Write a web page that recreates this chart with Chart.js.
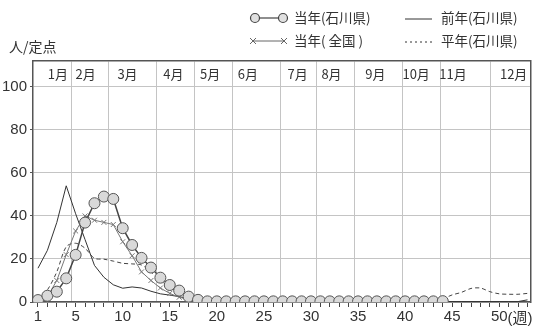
<!DOCTYPE html>
<html>
<head>
<meta charset="utf-8">
<script src="https://cdn.jsdelivr.net/npm/chart.js@4.4.1/dist/chart.umd.min.js"></script>
<style>
  html, body { margin: 0; padding: 0; background: #fff; }
  #contenedor { width: 537px; height: 331px; }
</style>
</head>
<body>
<div id="contenedor"><canvas id="grafico" width="537" height="331"></canvas></div>
<script>
  // semanas del año
  const semanas = [1, 2, 3, 4, 5, 6, 7, 8, 9, 10, 11, 12, 13, 14, 15, 16, 17, 18, 19, 20,
    21, 22, 23, 24, 25, 26, 27, 28, 29, 30, 31, 32, 33, 34, 35, 36, 37, 38, 39, 40,
    41, 42, 43, 44, 45, 46, 47, 48, 49, 50, 51, 52, 53];

  // 当年(石川県) - semanas 1..44
  const actualIshikawa = [0.9, 2.9, 4.8, 11.0, 21.9, 36.9, 45.9, 49.0, 47.9, 34.3,
    26.5, 20.5, 16.0, 11.3, 7.9, 5.3, 2.5, 1.0, 0.3, 0.3,
    0.3, 0.3, 0.3, 0.3, 0.3, 0.3, 0.3, 0.3, 0.3, 0.3,
    0.3, 0.3, 0.3, 0.3, 0.3, 0.3, 0.3, 0.3, 0.3, 0.3,
    0.3, 0.3, 0.3, 0.4];

  // 当年(全国) - semanas 1..44
  const actualNacional = [0.5, 2.5, 10, 22, 33, 40, 38, 37, 36, 28,
    21.5, 14, 10, 6.5, 4, 2.2, 1.2, 0.6, 0.3, 0.3,
    0.3, 0.3, 0.3, 0.3, 0.3, 0.3, 0.3, 0.3, 0.3, 0.3,
    0.3, 0.3, 0.3, 0.3, 0.3, 0.3, 0.3, 0.3, 0.3, 0.3,
    0.3, 0.3, 0.3, 0.3];

  // 前年(石川県)
  const anioAnterior = [15.7, 24, 37, 54, 41, 29, 17, 11.5, 8, 6.4,
    7.0, 6.5, 5.0, 3.8, 3.2, 2.5, 1.5, 0.5, 0.2, 0.2,
    0.2, 0.2, 0.2, 0.2, 0.2, 0.2, 0.2, 0.2, 0.2, 0.2,
    0.2, 0.2, 0.2, 0.2, 0.2, 0.2, 0.2, 0.2, 0.2, 0.2,
    0.2, 0.2, 0.2, 0.2, 0.2, 0.2, 0.2, 0.2, 0.2, 0.2,
    0.2, 0.2, 1.0];

  // 平年(石川県)
  const promedio = [1.0, 5.6, 14, 25.7, 27.3, 25, 20.3, 19.9, 19, 18,
    17.7, 17.2, 14, 10, 7, 4, 2.5, 1.2, 0.6, 0.4,
    0.4, 0.4, 0.4, 0.4, 0.4, 0.4, 0.4, 0.4, 0.4, 0.4,
    0.4, 0.4, 0.4, 0.4, 0.4, 0.4, 0.4, 0.4, 0.4, 0.4,
    0.4, 0.4, 0.5, 1.5, 3.3, 4.5, 6.3, 6.5, 4.8, 3.8,
    3.6, 3.6, 4.0];

  // meses (límites y posición de la etiqueta, en semanas)
  const meses = ['1月', '2月', '3月', '4月', '5月', '6月', '7月', '8月', '9月', '10月', '11月', '12月'];
  const posMeses = [3.11, 6.07, 10.51, 15.38, 19.29, 23.3, 28.59, 32.18, 36.84, 41.17, 45.08, 51.53];
  const limitesMes = [4.59, 8.51, 13.58, 17.6, 21.61, 26.79, 30.6, 34.62, 39.69, 43.71, 49.1];

  const ticksY = [0, 20, 40, 60, 80, 100];
  const etiquetasX = [1, 5, 10, 15, 20, 25, 30, 35, 40, 45, 50];

  const fuenteNum = '"Liberation Sans Narrow", "Arial Narrow", sans-serif';
  const fuenteJp = '"Noto Sans CJK JP", sans-serif';

  function puntos(valores) {
    return valores.map((v, i) => ({ x: semanas[i], y: v }));
  }

  // etiquetas de meses, (週) y leyenda
  const decoracion = {
    id: 'decoracion',
    afterDraw(chart) {
      const { ctx, chartArea } = chart;
      const x = chart.scales.x;
      const y = chart.scales.y;
      ctx.save();
      ctx.fillStyle = '#333';
      ctx.textBaseline = 'middle';

      // meses
      ctx.font = '13px ' + fuenteJp;
      ctx.textAlign = 'center';
      const yMes = (chartArea.top + y.getPixelForValue(100)) / 2;
      meses.forEach((m, i) => ctx.fillText(m, x.getPixelForValue(posMeses[i]), yMes));

      // (週)
      ctx.font = '15px ' + fuenteNum;
      const ancho50 = ctx.measureText('50').width;
      ctx.textAlign = 'left';
      ctx.font = '15px ' + fuenteNum + ', ' + fuenteJp;
      ctx.fillText('(週)', x.getPixelForValue(50) + ancho50 / 2, 319);

      // unidad
      ctx.font = '14px ' + fuenteJp;
      ctx.fillText('人/定点', 9, 47);

      // leyenda
      ctx.font = '13.5px ' + fuenteJp;
      ctx.strokeStyle = '#444';
      ctx.lineWidth = 1.2;
      // 当年(石川県)
      ctx.beginPath(); ctx.moveTo(255, 18); ctx.lineTo(283, 18); ctx.stroke();
      [255, 283].forEach(cx => {
        ctx.beginPath(); ctx.arc(cx, 18, 4.5, 0, Math.PI * 2);
        ctx.fillStyle = '#e0e0e0'; ctx.fill(); ctx.stroke();
      });
      ctx.fillStyle = '#333';
      ctx.fillText('当年(石川県)', 294, 18);
      // 当年(全国)
      ctx.lineWidth = 1;
      ctx.strokeStyle = '#666';
      ctx.beginPath(); ctx.moveTo(253, 41); ctx.lineTo(284, 41); ctx.stroke();
      [253, 284].forEach(cx => {
        ctx.beginPath();
        ctx.moveTo(cx - 3, 38); ctx.lineTo(cx + 3, 44);
        ctx.moveTo(cx + 3, 38); ctx.lineTo(cx - 3, 44);
        ctx.stroke();
      });
      ctx.fillText('当年( 全国 )', 294, 41);
      // 前年
      ctx.strokeStyle = '#333';
      ctx.beginPath(); ctx.moveTo(405, 19); ctx.lineTo(432, 19); ctx.stroke();
      ctx.fillText('前年(石川県)', 441, 18);
      // 平年
      ctx.setLineDash([2, 3]);
      ctx.beginPath(); ctx.moveTo(405, 42); ctx.lineTo(432, 42); ctx.stroke();
      ctx.setLineDash([]);
      ctx.fillText('平年(石川県)', 441, 41);
      ctx.restore();
    }
  };

  const ctx = document.getElementById('grafico').getContext('2d');

  new Chart(ctx, {
    type: 'line',
    data: {
      datasets: [
        {
          label: '当年(石川県)',
          data: puntos(actualIshikawa),
          borderColor: '#444',
          borderWidth: 1.5,
          pointStyle: 'circle',
          pointRadius: 5.5,
          pointBackgroundColor: '#d9d9d9',
          pointBorderColor: '#555',
          pointBorderWidth: 1,
          tension: 0
        },
        {
          label: '当年( 全国 )',
          data: puntos(actualNacional),
          borderColor: '#777',
          borderWidth: 1,
          pointStyle: 'crossRot',
          pointRadius: 3.5,
          pointBorderColor: '#777',
          pointBorderWidth: 1,
          tension: 0
        },
        {
          label: '前年(石川県)',
          data: puntos(anioAnterior),
          borderColor: '#333',
          borderWidth: 1,
          pointRadius: 0,
          tension: 0
        },
        {
          label: '平年(石川県)',
          data: puntos(promedio),
          borderColor: '#444',
          borderWidth: 1,
          borderDash: [4, 3],
          pointRadius: 0,
          tension: 0.3
        }
      ]
    },
    options: {
      responsive: false,
      animation: false,
      events: [],
      layout: { padding: { top: 61, right: 4, left: 0, bottom: 0 } },
      plugins: {
        legend: { display: false },
        tooltip: { enabled: false }
      },
      scales: {
        x: {
          type: 'linear',
          position: 'bottom',
          min: 0.47,
          max: 53.32,
          afterBuildTicks: (scale) => { scale.ticks = semanas.map(v => ({ value: v })); },
          afterFit: (scale) => { scale.height = 29; },
          grid: { drawOnChartArea: false, drawTicks: true, tickLength: 5, tickColor: '#444' },
          border: { display: true, color: '#555', width: 1.5 },
          ticks: {
            autoSkip: false,
            maxRotation: 0,
            padding: 1,
            color: '#333',
            font: { family: fuenteNum, size: 15 },
            callback: (v) => etiquetasX.includes(v) ? String(v) : ''
          }
        },
        meses: {
          type: 'linear',
          position: 'top',
          min: 0.47,
          max: 53.32,
          afterBuildTicks: (scale) => { scale.ticks = limitesMes.map(v => ({ value: v })); },
          afterFit: (scale) => { scale.height = 0; },
          grid: { drawOnChartArea: true, drawTicks: false, color: '#c4c4c4', lineWidth: 1 },
          border: { display: true, color: '#555', width: 1.5 },
          ticks: { display: false }
        },
        y: {
          min: 0,
          max: 112,
          afterBuildTicks: (scale) => { scale.ticks = ticksY.map(v => ({ value: v })); },
          afterFit: (scale) => { scale.width = 33; },
          grid: { color: '#c4c4c4', lineWidth: 1, tickLength: 3, tickColor: '#555' },
          border: { display: true, color: '#555', width: 1.5 },
          ticks: {
            padding: 3,
            color: '#333',
            font: { family: fuenteNum, size: 15 }
          }
        },
        derecha: {
          position: 'right',
          min: 0,
          max: 112,
          afterFit: (scale) => { scale.width = 0; },
          grid: { drawOnChartArea: false, drawTicks: false },
          border: { display: true, color: '#555', width: 1.5 },
          ticks: { display: false }
        }
      }
    },
    plugins: [decoracion]
  });
</script>
</body>
</html>
